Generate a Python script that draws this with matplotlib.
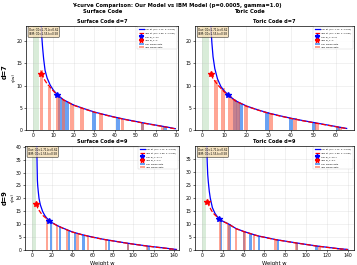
import matplotlib
matplotlib.use("Agg")
import matplotlib.pyplot as plt

# ---------------- data ----------------
# Surface d=7
s7_fit_our_w = [4.0, 4.15, 4.4, 4.8, 5.3, 6.0, 7.0, 8.5, 10, 12, 15, 20, 25, 30, 35, 40, 45, 50, 55, 60, 65, 69.5]
s7_fit_our_y = [25.0, 23.4, 21.0, 18.5, 16.0, 13.4, 11.7, 10.1, 9.0, 7.9, 6.8, 5.6, 4.8, 4.05, 3.45, 2.9, 2.4, 1.95, 1.5, 1.1, 0.7, 0.3]
s7_fit_ibm_w = [4.0, 5, 6, 7, 8.5, 10, 12, 15, 20, 25, 30, 35, 40, 45, 50, 55, 60, 65, 69.5]
s7_fit_ibm_y = [12.7, 11.9, 11.1, 10.4, 9.6, 8.8, 7.85, 6.75, 5.55, 4.75, 4.0, 3.4, 2.85, 2.35, 1.9, 1.45, 1.05, 0.65, 0.25]
s7_our_w = [13.2, 15.0, 16.8, 29.7, 41.6, 53.5, 64.6]
s7_our_y = [7.2, 6.7, 6.2, 4.0, 2.7, 1.6, 0.65]
s7_ibm_w = [4.3, 8.1, 12.3, 15.0, 19.1, 24.0, 33.3, 43.7, 53.5, 63.2]
s7_ibm_y = [13.4, 9.7, 7.8, 6.7, 5.8, 5.0, 3.6, 2.5, 1.6, 0.8]
s7_wc = {"our": (12, 7.9), "ibm": (4, 12.7)}

# Toric d=7
t7_fit_our_w = [3.9, 4.1, 4.5, 5.0, 5.8, 7, 8.5, 10, 11.8, 15, 20, 25, 30, 35, 40, 45, 50, 55, 60, 65]
t7_fit_our_y = [25.0, 22.5, 19.5, 16.5, 13.8, 11.5, 9.8, 8.8, 7.9, 6.6, 5.4, 4.55, 3.8, 3.2, 2.65, 2.15, 1.7, 1.25, 0.8, 0.35]
t7_fit_ibm_w = [4.0, 5, 6, 7, 8.5, 10, 11.8, 15, 20, 25, 30, 35, 40, 45, 50, 55, 60, 65]
t7_fit_ibm_y = [12.5, 11.6, 10.9, 10.2, 9.4, 8.6, 7.85, 6.55, 5.35, 4.5, 3.75, 3.15, 2.6, 2.1, 1.65, 1.2, 0.75, 0.3]
t7_our_w = [14.8, 16.2, 17.6, 29.4, 40.2, 50.3, 61.0]
t7_our_y = [6.8, 6.3, 5.9, 4.0, 2.75, 1.75, 0.75]
t7_ibm_w = [6.3, 9.4, 12.5, 14.3, 16.0, 20.0, 31.2, 41.8, 51.5, 62.0]
t7_ibm_y = [11.2, 9.5, 7.6, 7.0, 6.4, 5.4, 3.7, 2.6, 1.6, 0.6]
t7_wc = {"our": (11.8, 7.9), "ibm": (4, 12.5)}

# Surface d=9
s9_fit_our_w = [5.0, 5.3, 5.6, 5.9, 6.5, 7.2, 8.5, 10.8, 13, 15, 17.4, 20, 25, 30, 40, 50, 60, 70, 80, 90, 100, 110, 120, 130, 142.5]
s9_fit_our_y = [41, 33, 27, 25, 22.5, 20, 17.5, 14.9, 13.3, 12.3, 11.4, 10.6, 9.5, 8.6, 7.0, 5.9, 5.0, 4.2, 3.55, 2.9, 2.3, 1.75, 1.25, 0.8, 0.2]
s9_fit_ibm_w = [4.3, 6, 8, 10, 12, 15, 17.4, 20, 25, 30, 40, 50, 60, 70, 80, 90, 100, 110, 120, 130, 142.5]
s9_fit_ibm_y = [17.8, 16.2, 14.9, 13.8, 13.0, 12.1, 11.35, 10.55, 9.45, 8.55, 6.95, 5.85, 4.95, 4.15, 3.5, 2.85, 2.25, 1.7, 1.2, 0.75, 0.15]
s9_our_w = [19.0, 27.5, 36.5, 42.6, 51.0, 76.0, 95.0, 115.0, 136.5]
s9_our_y = [10.8, 9.0, 7.6, 6.7, 5.8, 3.7, 2.6, 1.55, 0.5]
s9_ibm_w = [15.0, 25.0, 35.0, 45.0, 55.2, 73.0, 94.5, 113.5, 136.0]
s9_ibm_y = [12.0, 9.5, 7.7, 6.4, 5.3, 4.0, 2.6, 1.6, 0.5]
s9_wc = {"our": (17.4, 11.4), "ibm": (4.3, 17.8)}

# Toric d=9
t9_fit_our_w = [4.5, 4.7, 5.0, 5.5, 6.1, 7, 8, 10, 12.5, 15, 16.7, 20, 25.4, 32.7, 40.8, 46.5, 50, 54.5, 70.6, 90.8, 110, 130.5, 140]
t9_fit_our_y = [44, 40, 34, 29, 26, 22.5, 19.8, 16.2, 14, 12.6, 11.9, 11, 10, 8.2, 7.0, 6.3, 5.85, 5.35, 4.0, 2.7, 1.55, 0.55, 0.2]
t9_fit_ibm_w = [5.1, 7, 9, 11, 13, 15, 16.7, 20, 25.4, 32.7, 40.8, 46.5, 50, 54.5, 70.6, 90.8, 110, 130.5, 140]
t9_fit_ibm_y = [18.4, 16.7, 15.2, 14.0, 13.2, 12.5, 11.85, 10.95, 9.95, 8.15, 6.95, 6.25, 5.8, 5.3, 3.95, 2.65, 1.5, 0.5, 0.15]
t9_our_w = [18.5, 26.5, 40.5, 46.5, 54.5, 72.7, 91.5, 110.0, 133.5]
t9_our_y = [11.3, 9.8, 7.0, 6.3, 5.3, 3.9, 2.65, 1.55, 0.4]
t9_ibm_w = [17.6, 25.4, 32.7, 40.8, 50.0, 70.6, 90.8, 113.0, 130.5]
t9_ibm_y = [11.5, 10.0, 8.1, 7.0, 5.8, 4.0, 2.7, 1.4, 0.5]
t9_wc = {"our": (16.7, 11.9), "ibm": (5.1, 18.4)}

our_label = "Our fit (C0=1.71, k=0.620)"
ibm_label = "IBM fit (C0=1.55, k=0.580)"
box_text = "Our: C0=1.71,k=0.62\nIBM: C0=1.55,k=0.58"

# ---------------- figure ----------------
W, H = 357, 265
fig = plt.figure(figsize=(W / 100, H / 100), dpi=100)

def rect(l, r, t, b):
    return [l / W, 1 - b / H, (r - l) / W, (b - t) / H]

panels = [
    dict(pos=rect(26, 178, 26, 130), title="Surface Code d=7", d=7,
         fo=(s7_fit_our_w, s7_fit_our_y), fi=(s7_fit_ibm_w, s7_fit_ibm_y),
         ob=(s7_our_w, s7_our_y), ib=(s7_ibm_w, s7_ibm_y), wc=s7_wc,
         xlim=(-3.3, 70.8), ylim=(0, 23.4), xt=range(0, 71, 10), yt=range(0, 21, 5), bw=1.8),
    dict(pos=rect(195, 354, 26, 130), title="Toric Code d=7", d=7,
         fo=(t7_fit_our_w, t7_fit_our_y), fi=(t7_fit_ibm_w, t7_fit_ibm_y),
         ob=(t7_our_w, t7_our_y), ib=(t7_ibm_w, t7_ibm_y), wc=t7_wc,
         xlim=(-3.1, 68.3), ylim=(0, 23.4), xt=range(0, 61, 10), yt=range(0, 21, 5), bw=1.8),
    dict(pos=rect(25, 179, 146, 250), title="Surface Code d=9", d=9,
         fo=(s9_fit_our_w, s9_fit_our_y), fi=(s9_fit_ibm_w, s9_fit_ibm_y),
         ob=(s9_our_w, s9_our_y), ib=(s9_ibm_w, s9_ibm_y), wc=s9_wc,
         xlim=(-6.6, 145), ylim=(0, 40.3), xt=range(0, 141, 20), yt=range(0, 41, 5), bw=2.2),
    dict(pos=rect(195, 354, 146, 250), title="Toric Code d=9", d=9,
         fo=(t9_fit_our_w, t9_fit_our_y), fi=(t9_fit_ibm_w, t9_fit_ibm_y),
         ob=(t9_our_w, t9_our_y), ib=(t9_ibm_w, t9_ibm_y), wc=t9_wc,
         xlim=(-6.7, 146), ylim=(0, 39.8), xt=range(0, 141, 20), yt=range(0, 36, 5), bw=2.2),
]

for i, p in enumerate(panels):
    ax = fig.add_axes(p["pos"])
    ax.axvspan(0, p["d"] // 2, color="green", alpha=0.15, lw=0)
    ax.bar(p["ob"][0], p["ob"][1], width=p["bw"], color="#2b7bef", alpha=0.7,
           label="Our Model data", zorder=2)
    ax.bar(p["ib"][0], p["ib"][1], width=p["bw"], color="#ff6a4d", alpha=0.6,
           label="IBM Model data", zorder=2)
    ax.plot(p["fo"][0], p["fo"][1], color="blue", lw=0.9, label=our_label, zorder=3)
    ax.plot(p["fi"][0], p["fi"][1], color="red", lw=0.9, ls="--", label=ibm_label, zorder=4)
    ow, oy = p["wc"]["our"]
    iw, iy = p["wc"]["ibm"]
    ax.plot([ow], [oy], marker="*", color="blue", ms=4.3, ls="none",
            label=f"Our w_c={ow:g}", zorder=5)
    ax.plot([iw], [iy], marker="*", color="red", ms=4.3, ls="none",
            label=f"IBM w_c={iw:g}", zorder=5)
    ax.set_xlim(*p["xlim"])
    ax.set_ylim(*p["ylim"])
    ax.set_xticks(list(p["xt"]))
    ax.set_yticks(list(p["yt"]))
    ax.tick_params(labelsize=3.3, length=1.5, width=0.4, pad=1)
    ax.grid(True, alpha=0.3, lw=0.4)
    for s in ax.spines.values():
        s.set_linewidth(0.5)
    ax.set_title(p["title"], fontsize=3.6, fontweight="bold", pad=2.5)
    handles, labels = ax.get_legend_handles_labels()
    order = [labels.index(our_label), labels.index(ibm_label),
             labels.index(f"Our w_c={ow:g}"), labels.index(f"IBM w_c={iw:g}"),
             labels.index("Our Model data"), labels.index("IBM Model data")]
    leg = ax.legend([handles[k] for k in order], [labels[k] for k in order],
                    loc="upper right", fontsize=1.6, frameon=True, framealpha=0.9,
                    borderpad=0.6, labelspacing=0.7, handlelength=2.4, handletextpad=0.6,
                    markerscale=0.8)
    leg.get_frame().set_linewidth(0.3)
    ax.text(0.02, 0.985, box_text, transform=ax.transAxes, fontsize=2.0,
            va="top", ha="left", zorder=6, linespacing=1.3,
            bbox=dict(boxstyle="round,pad=0.35", facecolor="wheat", alpha=0.8, lw=0.4))
    if i % 2 == 0:
        ax.set_ylabel("γ(w)", fontsize=3.0, labelpad=0.5)
    if i >= 2:
        ax.set_xlabel("Weight w", fontsize=3.8, labelpad=1.5)

fig.text(177 / W, 1 - 5 / H, "Y-curve Comparison: Our Model vs IBM Model (p=0.0005, gamma=1.0)",
         ha="center", va="center", fontsize=3.8, fontweight="bold")
fig.text(103 / W, 1 - 11.5 / H, "Surface Code", ha="center", va="center",
         fontsize=3.8, fontweight="bold")
fig.text(249 / W, 1 - 11.5 / H, "Toric Code", ha="center", va="center",
         fontsize=3.8, fontweight="bold")
fig.text(5 / W, 1 - 72 / H, "d=7", rotation=90, ha="center", va="center",
         fontsize=4.8, fontweight="bold")
fig.text(5 / W, 1 - 198 / H, "d=9", rotation=90, ha="center", va="center",
         fontsize=4.8, fontweight="bold")

fig.savefig("out.png", dpi=100)
